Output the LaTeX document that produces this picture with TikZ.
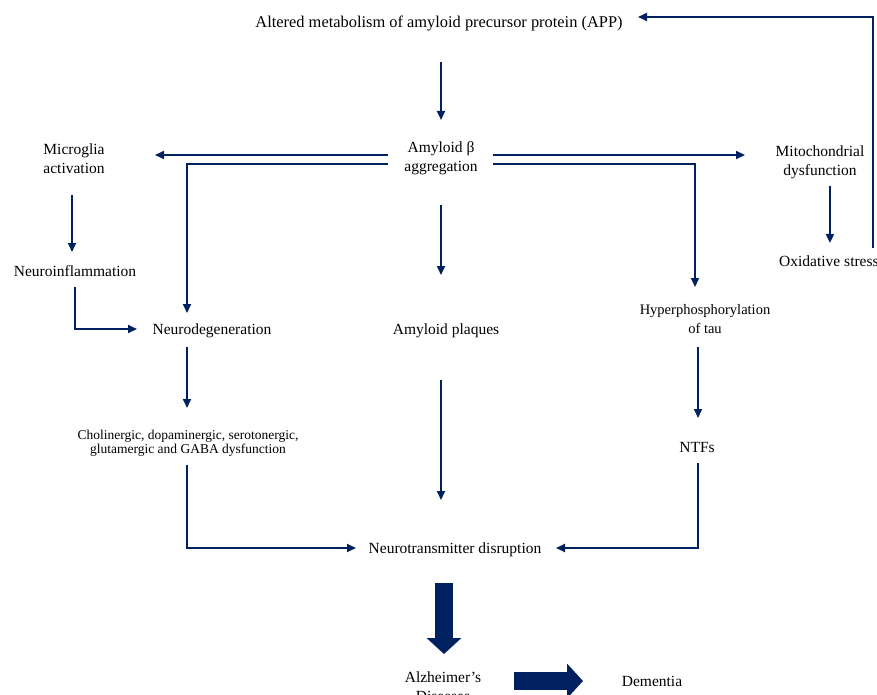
\documentclass[tikz,border=0pt]{standalone}
\usepackage{fontspec}
\setmainfont{Liberation Serif}
\usepackage{tikz}
\usetikzlibrary{arrows.meta,calc,positioning}
\definecolor{navyline}{RGB}{0,32,96}

\begin{document}
\begin{tikzpicture}[x=1pt,y=-1pt,
  box/.style={align=center,inner sep=0pt,font=\fontsize{15.5}{19}\selectfont},
  titlebox/.style={box,font=\fontsize{16.4}{19}\selectfont},
  taubox/.style={box,font=\fontsize{14.5}{19}\selectfont},
  smallbox/.style={box,font=\fontsize{13.5}{14}\selectfont},
  arr/.style={draw=navyline,line width=1.8pt,-{Triangle[length=9pt,width=8pt]}},
  fatarr/.style={draw=navyline,line width=18pt,-{Triangle[length=16pt,width=34pt]}}]
\useasboundingbox (0,0) rectangle (877,695);
% texts
\node[titlebox] (app) at (439,23) {Altered metabolism of amyloid precursor protein (APP)};
\node[box] (agg) at (441,158) {Amyloid β\\aggregation};
\node[box] (micro) at (74,159) {Microglia\\activation};
\node[box] (mito) at (820,162) {Mitochondrial\\dysfunction};
\node[box] (infl) at (75,271) {Neuroinflammation};
\node[box,anchor=west] (oxi) at (779,261) {Oxidative stress};
\node[box] (degen) at (212,331) {Neurodegeneration};
\node[box] (plaq) at (446,331) {Amyloid plaques};
\node[taubox] (tau) at (705,319) {Hyperphosphorylation\\of tau};
\node[smallbox] (chol) at (188,443) {Cholinergic, dopaminergic, serotonergic,\\glutamergic and GABA dysfunction};
\node[box] (ntf) at (697,447) {NTFs};
\node[box] (ntd) at (455,550) {Neurotransmitter disruption};
\node[box] (ad) at (443,687) {Alzheimer’s\\Diseases};
\node[box] (dem) at (652,681) {Dementia};
% connectors
\draw[arr] ($(app.center)+(2,39)$) -- ($(agg.center)+(0,-38)$);
\draw[arr] ($(agg.center)+(-53,-3)$) -- ($(micro.center)+(81,-4)$);
\draw[arr] ($(agg.center)+(-53,6)$) -| ($(degen.center)+(-25,-18)$);
\draw[arr] ($(agg.center)+(52,-3)$) -- ($(mito.center)+(-75,-7)$);
\draw[arr] ($(agg.center)+(52,6)$) -| ($(tau.center)+(-10,-32)$);
\draw[arr] ($(agg.center)+(0,47)$) -- ($(plaq.center)+(-5,-56)$);
\draw[arr] ($(micro.center)+(-2,36)$) -- ($(infl.center)+(-3,-19)$);
\draw[arr] ($(infl.center)+(0,16)$) |- ($(degen.center)+(-75,-2)$);
\draw[arr] ($(degen.center)+(-25,16)$) -- ($(chol.center)+(-1,-35)$);
\draw[arr] ($(chol.center)+(-1,22)$) |- ($(ntd.center)+(-99,-2)$);
\draw[arr] ($(plaq.center)+(-5,49)$) -- ($(ntd.center)+(-14,-50)$);
\draw[arr] ($(mito.center)+(10,24)$) -- ($(oxi.center)+(1,-18)$);
\draw[arr] ($(tau.center)+(-7,28)$) -- ($(ntf.center)+(1,-29)$);
\draw[arr] ($(ntf.center)+(1,16)$) |- ($(ntd.center)+(101,-2)$);
\draw[arr] ($(oxi.center)+(44,-13)$) |- ($(app.center)+(199,-6)$);
\draw[fatarr] ($(ntd.center)+(-11,33)$) -- ($(ad.center)+(1,-33)$);
\draw[fatarr] ($(ad.center)+(71,-6)$) -- ($(dem.center)+(-69,0)$);
\end{tikzpicture}
\end{document}
